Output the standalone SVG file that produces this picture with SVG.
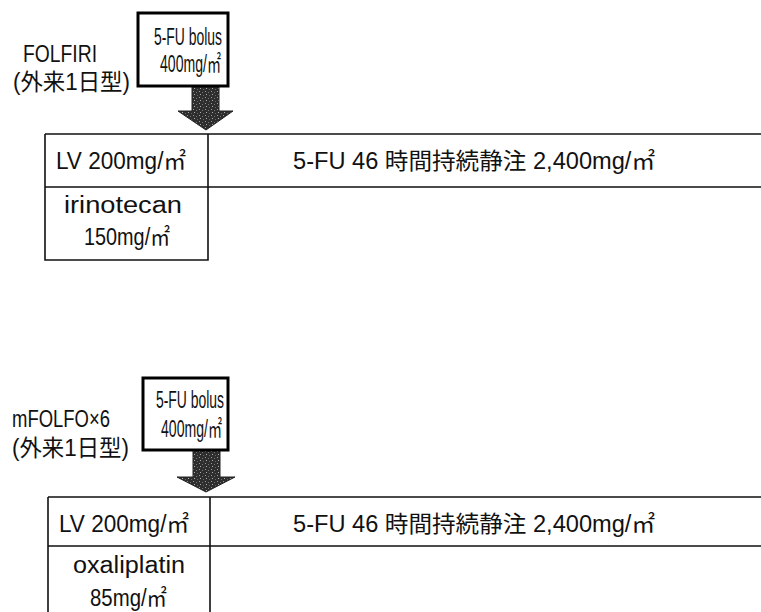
<svg xmlns="http://www.w3.org/2000/svg" width="761" height="612" viewBox="0 0 761 612">
<defs>
<pattern id="speckle" width="6" height="6" patternUnits="userSpaceOnUse">
<rect width="6" height="6" fill="#2e2e2e"/>
<rect x="1" y="1" width="1" height="1" fill="#9a9a9a"/>
<rect x="4" y="2" width="1" height="1" fill="#777"/>
<rect x="2" y="4" width="1" height="1" fill="#b0b0b0"/>
<rect x="5" y="5" width="1" height="1" fill="#666"/>
</pattern>
</defs>
<style>
text{font-family:"Liberation Sans","Noto Sans CJK JP",sans-serif;font-size:23px;fill:#111}
.box{fill:#fff;stroke:#000;stroke-width:3}
.ln{stroke:#111;stroke-width:1.6;fill:none}
.arr{fill:url(#speckle);stroke:#222;stroke-width:1}
</style>
<rect width="761" height="612" fill="#fff"/>

<!-- Section 1 -->
<g id="label1">
<text x="23" y="62" textLength="74" lengthAdjust="spacingAndGlyphs">FOLFIRI</text>
<text x="13" y="90" font-size="21" textLength="117" lengthAdjust="spacingAndGlyphs">(外来1日型)</text>
</g>
<g id="connectors">
<path class="arr" d="M192,86 H219 V111 H233 L206,130 L178,111 H192 Z"/>
<path class="arr" d="M193,450 H220 V477 H235 L206,492 L177,477 H193 Z"/>
</g>
<g id="bolus1">
<rect class="box" x="138" y="13" width="90" height="73"/>
<text x="154" y="45" font-size="22" textLength="68" lengthAdjust="spacingAndGlyphs">5-FU bolus</text>
<text x="160" y="72" font-size="22" textLength="61" lengthAdjust="spacingAndGlyphs">400mg/㎡</text>
</g>
<g id="table1">
<path class="ln" d="M45,134 H761 M45,187 H761 M45,134 V260 H208 V134"/>
<text x="56" y="169" textLength="130" lengthAdjust="spacingAndGlyphs">LV 200mg/㎡</text>
<text x="293" y="169" textLength="362" lengthAdjust="spacingAndGlyphs">5-FU 46 時間持続静注 2,400mg/㎡</text>
<text x="64" y="213" textLength="118" lengthAdjust="spacingAndGlyphs">irinotecan</text>
<text x="84" y="245" textLength="86" lengthAdjust="spacingAndGlyphs">150mg/㎡</text>
</g>

<!-- Section 2 -->
<g id="label2">
<text x="12" y="427" textLength="98" lengthAdjust="spacingAndGlyphs">mFOLFO×6</text>
<text x="12" y="456" font-size="21" textLength="117" lengthAdjust="spacingAndGlyphs">(外来1日型)</text>
</g>
<g id="bolus2">
<rect class="box" x="143" y="378" width="85" height="72"/>
<text x="156" y="408" font-size="22" textLength="68" lengthAdjust="spacingAndGlyphs">5-FU bolus</text>
<text x="161" y="437" font-size="22" textLength="61" lengthAdjust="spacingAndGlyphs">400mg/㎡</text>
</g>
<g id="table2">
<path class="ln" d="M48,497 H761 M48,546 H761 M48,497 V612 M210,497 V612"/>
<text x="59" y="532" textLength="130" lengthAdjust="spacingAndGlyphs">LV 200mg/㎡</text>
<text x="293" y="532" textLength="362" lengthAdjust="spacingAndGlyphs">5-FU 46 時間持続静注 2,400mg/㎡</text>
<text x="73" y="573" textLength="112" lengthAdjust="spacingAndGlyphs">oxaliplatin</text>
<text x="90" y="606" textLength="77" lengthAdjust="spacingAndGlyphs">85mg/㎡</text>
</g>
</svg>
